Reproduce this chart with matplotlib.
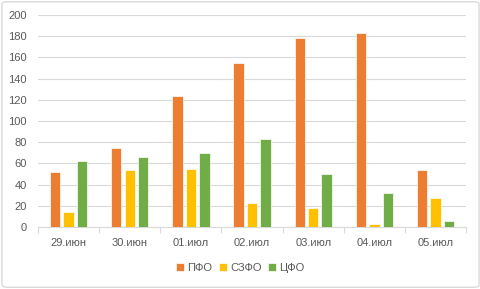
import numpy as np
import matplotlib
matplotlib.use("Agg")
import matplotlib.pyplot as plt
from matplotlib.patches import FancyBboxPatch

# data
dates = ['29.июн', '30.июн', '01.июл', '02.июл', '03.июл', '04.июл', '05.июл']
pfo = [52, 75, 124, 155, 178, 183, 54]
szfo = [14, 54, 55, 23, 18, 3, 27]
cfo = [62, 66, 70, 83, 50, 32, 6]

series = [('ПФО', pfo, '#ED7D31'), ('СЗФО', szfo, '#FFC000'), ('ЦФО', cfo, '#70AD47')]

plt.rcParams['font.family'] = ['Liberation Sans', 'DejaVu Sans']

fig = plt.figure(figsize=(4.81, 2.89), dpi=100)
#rounded light border round the chart
fig.patches.append(FancyBboxPatch((0.004, 0.006), 0.992, 0.988, boxstyle='round,pad=0,rounding_size=0.01',
                                  transform=fig.transFigure, fill=False, ec='#D9D9D9', lw=1))

ax = fig.add_axes([0.079, 0.2145, 0.89, 0.7335])
x = np.arange(len(dates))
w = 0.17
step = 0.22
for i, (name, vals, col) in enumerate(series):
    ax.bar(x + (i - 1) * step, vals, w, color=col, edgecolor='white', linewidth=0.5, label=name, zorder=3)

ax.set_ylim(0, 200)
ax.set_yticks(range(0, 201, 20))
ax.set_xlim(-0.5, len(dates) - 0.5)
ax.set_xticks(x)
ax.set_xticklabels(dates)
ax.set_xticks(np.arange(-0.5, len(dates)), minor=True)
ax.tick_params(axis='x', which='major', length=0, pad=8, labelsize=8, labelcolor='#595959')
ax.tick_params(axis='x', which='minor', length=4.5, color='#D9D9D9', width=0.8)
ax.tick_params(axis='y', length=0, pad=8, labelsize=8, labelcolor='#595959')
ax.grid(axis='y', color='#D9D9D9', lw=0.8, zorder=0)
for s in ['top', 'right', 'left']:
    ax.spines[s].set_visible(False)
ax.spines['bottom'].set_color('#D9D9D9')
ax.spines['bottom'].set_linewidth(0.8)

leg = fig.legend(loc='center', bbox_to_anchor=(0.5, 0.073), ncol=3, frameon=False, fontsize=8,
                 handlelength=0.7, handleheight=0.7, handletextpad=0.3, columnspacing=0.6)
for t in leg.get_texts():
    t.set_color('#595959')

fig.savefig('out.png', dpi=100)
